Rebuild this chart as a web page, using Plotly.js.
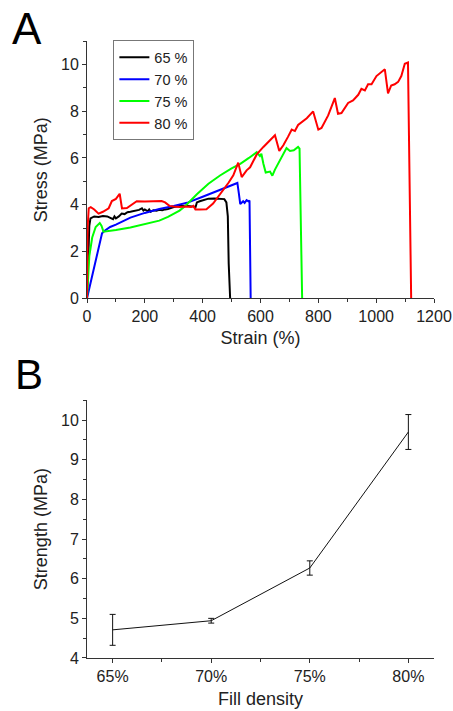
<!DOCTYPE html>
<html>
<head>
<meta charset="utf-8">
<script src="https://cdn.plot.ly/plotly-3.0.1.min.js"></script>
<style>html,body{margin:0;padding:0;background:#fff;}#chart{width:453px;height:711px;}</style>
</head>
<body>
<div id="chart"></div>
<script>
// Panel A: stress-strain curves
const strain65 = [0, 4, 8, 12, 25, 40, 55, 70, 80, 90, 95, 100, 110, 120, 130, 140, 150, 160, 170, 180, 190, 195, 200, 210, 215, 220, 230, 240, 250, 260, 270, 280, 300, 320, 340, 360, 370, 375, 380, 390, 400, 420, 440, 460, 475, 482, 487, 490, 495];
const stress65 = [0, 1.5, 3.1, 3.42, 3.5, 3.48, 3.52, 3.5, 3.45, 3.38, 3.5, 3.42, 3.5, 3.62, 3.6, 3.68, 3.7, 3.72, 3.75, 3.78, 3.85, 3.75, 3.8, 3.72, 3.8, 3.7, 3.76, 3.74, 3.78, 3.76, 3.8, 3.82, 3.9, 3.95, 3.96, 3.95, 3.92, 3.88, 4.1, 4.15, 4.18, 4.26, 4.27, 4.25, 4.24, 4.1, 3.5, 1.5, 0];

const strain70 = [0, 20, 40, 52, 60, 80, 100, 150, 200, 250, 300, 350, 400, 450, 500, 520, 525, 530, 540, 545, 552, 558, 562, 566];
const stress70 = [0, 1.1, 2.2, 2.78, 2.88, 3.05, 3.15, 3.45, 3.65, 3.82, 3.95, 4.1, 4.34, 4.58, 4.83, 4.93, 4.5, 4.03, 4.15, 4.08, 4.2, 4.15, 4.18, 0];

const strain75 = [0, 8, 18, 30, 44, 50, 57, 70, 100, 150, 200, 250, 280, 300, 320, 340, 380, 420, 460, 500, 530, 560, 587, 598, 603, 610, 618, 633, 641, 650, 670, 690, 702, 715, 730, 735, 744];
const stress75 = [0, 1.8, 2.6, 3.05, 3.22, 3.1, 2.85, 2.87, 2.92, 3.03, 3.16, 3.32, 3.48, 3.6, 3.75, 3.95, 4.45, 4.9, 5.25, 5.55, 5.75, 6.0, 6.25, 6.08, 6.18, 5.75, 5.38, 5.42, 5.24, 5.5, 5.95, 6.42, 6.3, 6.33, 6.47, 6.4, 0];

const strain80 = [0, 2, 6, 13, 25, 40, 55, 63, 75, 86, 100, 113, 117, 121, 138, 155, 172, 200, 230, 258, 270, 285, 300, 320, 340, 360, 368, 375, 390, 413, 436, 455, 471, 490, 506, 523, 535, 552, 564, 587, 610, 630, 650, 665, 679, 695, 708, 719, 730, 760, 782, 800, 811, 834, 857, 868, 880, 903, 920, 938, 949, 961, 972, 984, 1001, 1030, 1041, 1052, 1064, 1076, 1087, 1099, 1110, 1121];
const stress80 = [0, 3.0, 3.85, 3.9, 3.8, 3.62, 3.7, 3.76, 3.85, 4.16, 4.25, 4.47, 4.2, 3.84, 3.86, 4.0, 4.15, 4.14, 4.16, 4.16, 4.1, 3.95, 3.92, 3.9, 3.92, 3.9, 3.95, 3.8, 3.8, 3.81, 4.05, 4.35, 4.62, 4.95, 5.26, 5.8, 5.18, 5.47, 5.6, 6.15, 6.47, 6.72, 6.97, 6.3, 6.54, 6.9, 7.21, 7.15, 7.41, 7.7, 7.99, 7.21, 7.28, 7.82, 8.56, 7.89, 7.92, 8.35, 8.46, 8.7, 8.96, 8.89, 9.15, 9.15, 9.5, 9.79, 8.76, 9.1, 9.15, 9.25, 9.5, 10.03, 10.08, 0];

const seriesNames = ['65 %', '70 %', '75 %', '80 %'];
const seriesColors = ['#000000', '#0000ff', '#00ff00', '#ff0000'];

// Panel B: strength vs fill density
const fillDensity = [65, 70, 75, 80];
const fillLabels = ['65%', '70%', '75%', '80%'];
const strength = [4.71, 4.94, 6.27, 9.70];
const strengthErr = [0.39, 0.06, 0.18, 0.44];

const font = 'Liberation Sans, Arial, sans-serif';
const txt = '#222';

const xs = [strain65, strain70, strain75, strain80];
const ys = [stress65, stress70, stress75, stress80];
const traces = xs.map((x, i) => ({
  x: x, y: ys[i], type: 'scatter', mode: 'lines', name: seriesNames[i],
  line: {color: seriesColors[i], width: 2}, xaxis: 'x', yaxis: 'y'
}));
traces.push({
  x: fillDensity, y: strength, type: 'scatter', mode: 'lines', showlegend: false,
  line: {color: '#111', width: 1},
  error_y: {type: 'data', array: strengthErr, visible: true, color: '#111', thickness: 1, width: 3},
  xaxis: 'x2', yaxis: 'y2'
});

const axBase = {
  showgrid: false, zeroline: false, showline: true, linecolor: '#333', linewidth: 1,
  ticks: 'outside', ticklen: 4, tickcolor: '#333', tickwidth: 1,
  tickfont: {family: font, size: 16, color: txt}
};

const layout = {
  width: 453, height: 711,
  margin: {l: 86.7, r: 19, t: 40.7, b: 53.3},
  paper_bgcolor: '#fff', plot_bgcolor: '#fff',
  font: {family: font, color: txt},
  showlegend: true,
  legend: {
    x: 0.076, y: 1.001, xanchor: 'left', yanchor: 'top',
    bordercolor: '#777', borderwidth: 1, bgcolor: '#fff',
    font: {family: font, size: 14.5, color: txt},
    tracegroupgap: 0
  },
  xaxis: Object.assign({}, axBase, {
    domain: [0, 1], anchor: 'y', range: [0, 1200], dtick: 200, tick0: 0,
    minor: {dtick: 100, ticklen: 3, ticks: 'outside', tickcolor: '#333'},
    title: {text: 'Strain (%)', font: {family: font, size: 18, color: txt}, standoff: 6}
  }),
  yaxis: Object.assign({}, axBase, {
    domain: [0.583, 1], anchor: 'x', range: [0, 11], dtick: 2, tick0: 0,
    minor: {dtick: 1, ticklen: 3, ticks: 'outside', tickcolor: '#333'},
    title: {text: 'Stress (MPa)', font: {family: font, size: 18, color: txt}, standoff: 8}
  }),
  xaxis2: Object.assign({}, axBase, {
    domain: [0, 1], anchor: 'y2', range: [63.7, 81.3],
    tickvals: fillDensity, ticktext: fillLabels,
    minor: {tickvals: [67.5, 72.5, 77.5], ticklen: 3, ticks: 'outside', tickcolor: '#333'},
    title: {text: 'Fill density', font: {family: font, size: 18, color: txt}, standoff: 8}
  }),
  yaxis2: Object.assign({}, axBase, {
    domain: [0, 0.4177], anchor: 'x2', range: [4, 10.5], dtick: 1, tick0: 4,
    minor: {dtick: 0.5, ticklen: 3, ticks: 'outside', tickcolor: '#333'},
    title: {text: 'Strength (MPa)', font: {family: font, size: 18, color: txt}, standoff: 8}
  }),
  annotations: [
    {text: 'A', xref: 'paper', yref: 'paper', x: -0.222, y: 1.064, xanchor: 'left', yanchor: 'top',
     showarrow: false, font: {family: font, size: 44, color: '#000'}},
    {text: 'B', xref: 'paper', yref: 'paper', x: -0.212, y: 0.5003, xanchor: 'left', yanchor: 'top',
     showarrow: false, font: {family: font, size: 42, color: '#000'}}
  ]
};

Plotly.newPlot('chart', traces, layout, {displayModeBar: false, staticPlot: true});
</script>
</body>
</html>
